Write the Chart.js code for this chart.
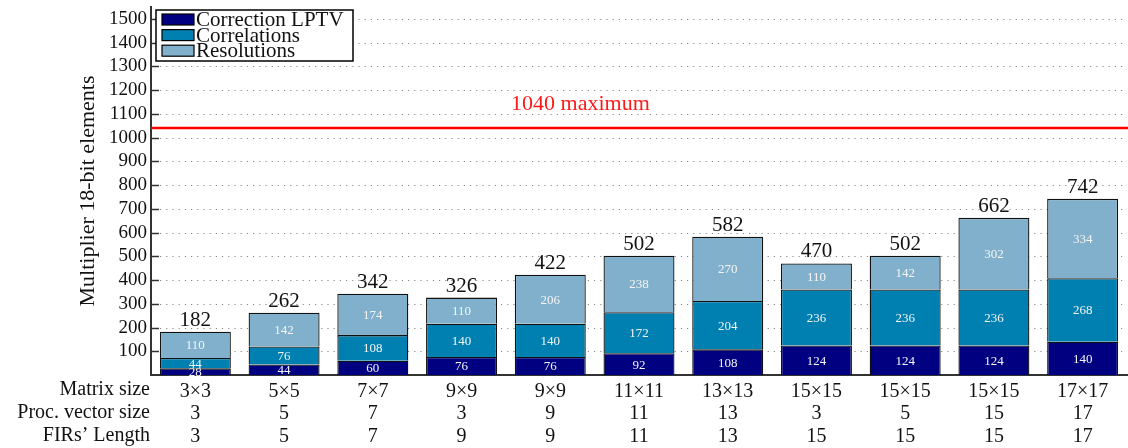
<!DOCTYPE html>
<html>
<head>
<meta charset="utf-8">
<script src="https://cdn.jsdelivr.net/npm/chart.js@4/dist/chart.umd.min.js"></script>
<style>
  html, body { margin: 0; padding: 0; background: #ffffff; }
  #wrap { width: 1128px; height: 448px; }
</style>
</head>
<body>
<div id="wrap"><canvas id="c" width="1128" height="448"></canvas></div>
<script>
// ---- data ----
const matrixSizes = ['3×3','5×5','7×7','9×9','9×9','11×11','13×13','15×15','15×15','15×15','17×17'];
const procVectorSizes = ['3','5','7','3','9','11','13','3','5','15','17'];
const firLengths = ['3','5','7','9','9','11','13','15','15','15','17'];
const rowHeaders = ['Matrix size', 'Proc. vector size', 'FIRs’ Length'];

const seriesNames = ['Correction LPTV', 'Correlations', 'Resolutions'];
const correctionLPTV = [28, 44, 60, 76, 76, 92, 108, 124, 124, 124, 140];
const correlations   = [44, 76, 108, 140, 140, 172, 204, 236, 236, 236, 268];
const resolutions    = [110, 142, 174, 110, 206, 238, 270, 110, 142, 302, 334];

const yTickValues = [100, 200, 300, 400, 500, 600, 700, 800, 900, 1000, 1100, 1200, 1300, 1400, 1500];
const maxElements = 1040;
const maxLabel = '1040 maximum';
const yTitle = 'Multiplier 18-bit elements';
const yMax = 1550;

// ---- styles ----
const FONT = "'Liberation Serif', 'DejaVu Serif', serif";
const colors = ['#000080', '#0080b0', '#80b0cb'];

const labels = matrixSizes.map((m, i) => [m, procVectorSizes[i], firLengths[i]]);

const decorPlugin = {
  id: 'decor',
  beforeDatasetsDraw(chart) {
    const ctx = chart.ctx, ca = chart.chartArea, y = chart.scales.y;
    ctx.save();
    // dotted grid
    ctx.strokeStyle = '#8a8a8a';
    ctx.lineWidth = 1;
    ctx.setLineDash([1.2, 5]);
    y.ticks.forEach(t => {
      const py = Math.round(y.getPixelForValue(t.value)) + 0.5;
      ctx.beginPath();
      ctx.moveTo(ca.left + 9, py);
      ctx.lineTo(ca.right, py);
      ctx.stroke();
    });
    ctx.setLineDash([]);
    // inward tick marks
    ctx.strokeStyle = '#333';
    ctx.lineWidth = 1.5;
    y.ticks.forEach(t => {
      const py = Math.round(y.getPixelForValue(t.value)) + 0.5;
      ctx.beginPath();
      ctx.moveTo(ca.left, py);
      ctx.lineTo(ca.left + 8, py);
      ctx.stroke();
    });
    ctx.restore();
  },
  afterDatasetsDraw(chart) {
    const ctx = chart.ctx, ca = chart.chartArea, y = chart.scales.y;
    ctx.save();
    // segment values
    ctx.fillStyle = '#f4f4f4';
    ctx.font = '13px ' + FONT;
    ctx.textAlign = 'center';
    ctx.textBaseline = 'middle';
    chart.data.datasets.forEach((ds, di) => {
      const meta = chart.getDatasetMeta(di);
      meta.data.forEach((bar, i) => {
        ctx.fillText(String(ds.data[i]), bar.x, (bar.y + bar.base) / 2 + 1);
      });
    });
    // totals
    ctx.fillStyle = '#111';
    ctx.font = '21px ' + FONT;
    ctx.textBaseline = 'alphabetic';
    const topMeta = chart.getDatasetMeta(chart.data.datasets.length - 1);
    topMeta.data.forEach((bar, i) => {
      const total = chart.data.datasets.reduce((s, ds) => s + ds.data[i], 0);
      ctx.fillText(String(total), bar.x, bar.y - 6);
    });
    // maximum line
    const py = y.getPixelForValue(maxElements);
    ctx.strokeStyle = '#ff0000';
    ctx.lineWidth = 2.5;
    ctx.beginPath();
    ctx.moveTo(ca.left, py);
    ctx.lineTo(ca.right + 1, py);
    ctx.stroke();
    ctx.fillStyle = '#ff1a1a';
    ctx.font = '22px ' + FONT;
    ctx.textAlign = 'center';
    ctx.fillText(maxLabel, ca.left + 0.44 * (ca.right - ca.left), py - 18);
    // legend
    const lx = 156, ly = 10, lw = 197, lh = 51;
    ctx.fillStyle = '#ffffff';
    ctx.fillRect(lx, ly, lw, lh);
    ctx.strokeStyle = '#000';
    ctx.lineWidth = 1.5;
    ctx.strokeRect(lx, ly, lw, lh);
    ctx.font = '21px ' + FONT;
    ctx.textAlign = 'left';
    ctx.textBaseline = 'middle';
    chart.data.datasets.forEach((ds, di) => {
      const cy = ly + 9.5 + di * 15.6;
      ctx.fillStyle = ds.backgroundColor;
      ctx.fillRect(lx + 6, cy - 5.5, 32, 11);
      ctx.strokeStyle = '#000';
      ctx.lineWidth = 1.2;
      ctx.strokeRect(lx + 6, cy - 5.5, 32, 11);
      ctx.fillStyle = '#111';
      ctx.fillText(ds.label, lx + 40, cy + 1);
    });
    ctx.restore();
  },
  afterDraw(chart) {
    const ctx = chart.ctx;
    ctx.save();
    ctx.fillStyle = '#111';
    ctx.font = '20px ' + FONT;
    ctx.textAlign = 'right';
    ctx.textBaseline = 'middle';
    rowHeaders.forEach((h, i) => {
      ctx.fillText(h, 150, chart.chartArea.bottom + 15 + i * 22.7);
    });
    ctx.restore();
  }
};

new Chart(document.getElementById('c'), {
  type: 'bar',
  data: {
    labels: labels,
    datasets: [
      { label: seriesNames[0], data: correctionLPTV, backgroundColor: colors[0] },
      { label: seriesNames[1], data: correlations, backgroundColor: colors[1] },
      { label: seriesNames[2], data: resolutions, backgroundColor: colors[2] }
    ]
  },
  options: {
    responsive: false,
    animation: false,
    devicePixelRatio: 1,
    layout: { padding: { top: 7, right: 1, left: 0, bottom: 0 } },
    datasets: {
      bar: {
        categoryPercentage: 0.8,
        barPercentage: 1.0,
        borderColor: '#111',
        borderWidth: 1.3
      }
    },
    plugins: {
      legend: { display: false },
      tooltip: { enabled: false }
    },
    scales: {
      x: {
        stacked: true,
        grid: { display: false, drawTicks: false },
        border: { display: true, color: '#333', width: 2 },
        ticks: {
          color: '#111',
          font: { family: FONT, size: 20, lineHeight: 1.135 },
          padding: 5,
          autoSkip: false,
          maxRotation: 0,
          minRotation: 0
        },
        afterFit(s) { s.height = 73; s.paddingLeft = 0; s.paddingRight = 0; s.paddingTop = 0; s.paddingBottom = 0; }
      },
      y: {
        stacked: true,
        min: 0,
        max: yMax,
        grid: { display: false, drawTicks: false },
        border: { display: true, color: '#333', width: 2 },
        ticks: {
          color: '#111',
          font: { family: FONT, size: 19 },
          padding: 4,
          callback: v => String(v)
        },
        title: {
          display: true,
          text: yTitle,
          color: '#111',
          font: { family: FONT, size: 22 },
          padding: { top: 75, bottom: 0 }
        },
        afterBuildTicks(s) {
          s.ticks = yTickValues.map(v => ({ value: v }));
        },
        afterFit(s) { s.width = 151; s.paddingLeft = 0; s.paddingRight = 0; s.paddingTop = 0; s.paddingBottom = 0; }
      }
    }
  },
  plugins: [decorPlugin]
});
</script>
</body>
</html>
